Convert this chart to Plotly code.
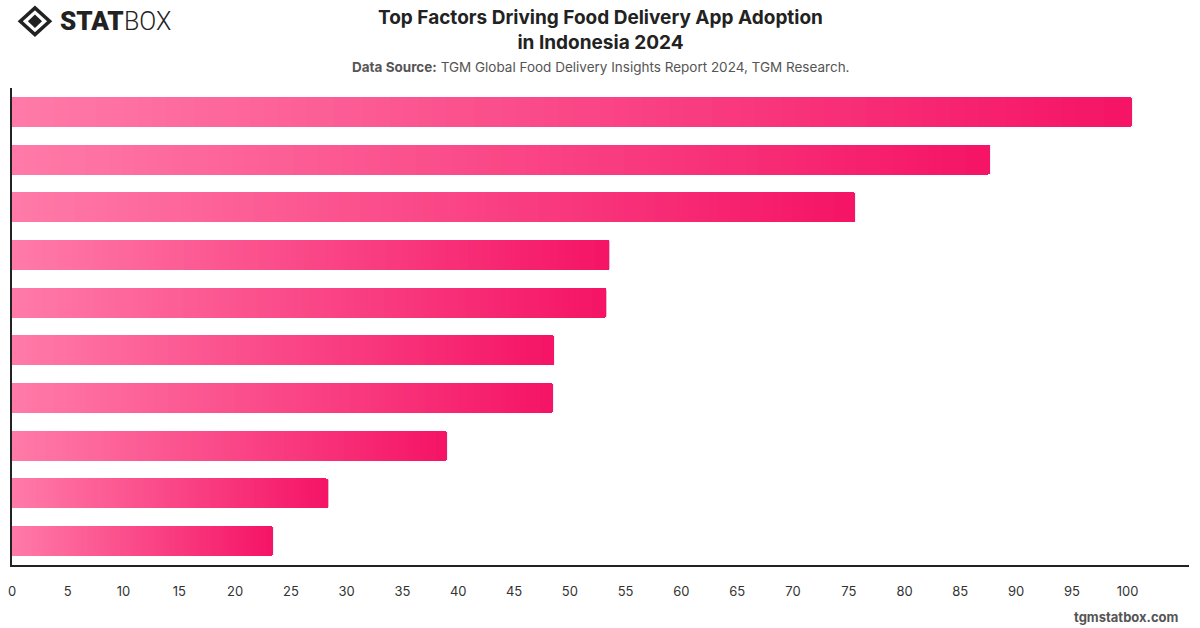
import plotly.graph_objects as go

# ---- data ----
categories = ["Factor 1", "Factor 2", "Factor 3", "Factor 4", "Factor 5",
              "Factor 6", "Factor 7", "Factor 8", "Factor 9", "Factor 10"]
values = [100.4, 87.7, 75.6, 53.6, 53.3, 48.6, 48.5, 39.0, 28.4, 23.4]
tick_vals = [0, 5, 10, 15, 20, 25, 30, 35, 40, 45, 50, 55, 60, 65, 70, 75, 80, 85, 90, 95, 100]

# ---- gradient styling ----
c_start = (255, 122, 168)
c_end = (245, 20, 102)
N = 80

def lerp(a, b, t):
    return tuple(round(a[i] + (b[i] - a[i]) * t) for i in range(3))

fig = go.Figure()
for k in range(N):
    t = k / (N - 1)
    r, g, b = lerp(c_start, c_end, t)
    fig.add_trace(go.Bar(
        y=categories,
        x=[v / N for v in values],
        orientation="h",
        marker=dict(color=f"rgb({r},{g},{b})", line=dict(width=0)),
        hoverinfo="skip",
        showlegend=False,
    ))

fig.add_trace(go.Bar(y=categories, x=[0] * len(values), orientation="h",
                     customdata=values, hovertemplate="%{customdata}<extra></extra>",
                     showlegend=False, marker=dict(color="rgba(0,0,0,0)")))

FONT = "Inter, Roboto, sans-serif"

fig.update_layout(
    width=1200, height=628,
    barmode="stack",
    bargap=0.37,
    barcornerradius=3,
    plot_bgcolor="white",
    paper_bgcolor="white",
    margin=dict(l=8, r=11, t=88, b=63),
    font=dict(family=FONT, color="#333"),
    xaxis=dict(
        range=[0, 105.5],
        tickmode="array",
        tickvals=tick_vals,
        showgrid=False,
        zeroline=False,
        showline=True,
        linecolor="#222",
        linewidth=1.5,
        ticks="",
        tickfont=dict(size=13, color="#333"),
        ticklabelstandoff=14,
    ),
    yaxis=dict(
        autorange="reversed",
        showticklabels=False,
        showgrid=False,
        zeroline=False,
        showline=True,
        linecolor="#222",
        linewidth=1.5,
        ticks="",
    ),
)

# Title
fig.add_annotation(
    text="<b>Top Factors Driving Food Delivery App Adoption<br>in Indonesia 2024</b>",
    xref="paper", yref="paper", x=0.5, y=1.0, xanchor="center", yanchor="top",
    yshift=84, showarrow=False,
    font=dict(size=19, color="#222", family=FONT),
    align="center",
)
# Subtitle
fig.add_annotation(
    text="<b>Data Source:</b> TGM Global Food Delivery Insights Report 2024, TGM Research.",
    xref="paper", yref="paper", x=0.5, y=1.0, xanchor="center", yanchor="middle",
    yshift=21, showarrow=False,
    font=dict(size=13.5, color="#555", family=FONT),
)
# Footer
fig.add_annotation(
    text="<b>tgmstatbox.com</b>",
    xref="paper", yref="paper", x=1.0, y=0, xanchor="right", yanchor="top",
    xshift=-8, yshift=-42, showarrow=False,
    font=dict(size=13, color="#555", family=FONT),
)
# Logo text
fig.add_annotation(
    text="STAT",
    xref="paper", yref="paper", x=0, y=1.0, xanchor="left", yanchor="middle",
    xshift=46, yshift=67, showarrow=False,
    font=dict(size=26, color="#222", family="Roboto, Inter, sans-serif", weight=900),
)
fig.add_annotation(
    text="BOX",
    xref="paper", yref="paper", x=0, y=1.0, xanchor="left", yanchor="middle",
    xshift=110, yshift=67, showarrow=False,
    font=dict(size=25, color="#222", family="Roboto, Inter, sans-serif", weight=300),
)

# Logo icon (diamond)
fig.add_shape(type="path", xref="paper", yref="paper",
              path="M 0.007 1.140 L 0.0195 1.168 L 0.032 1.140 L 0.0195 1.112 Z",
              line=dict(color="#222", width=3.5), fillcolor="white")
fig.add_shape(type="path", xref="paper", yref="paper",
              path="M 0.0135 1.140 L 0.0195 1.154 L 0.0255 1.140 L 0.0195 1.126 Z",
              line=dict(color="#222", width=0), fillcolor="#222")

fig.write_html("out.html")
